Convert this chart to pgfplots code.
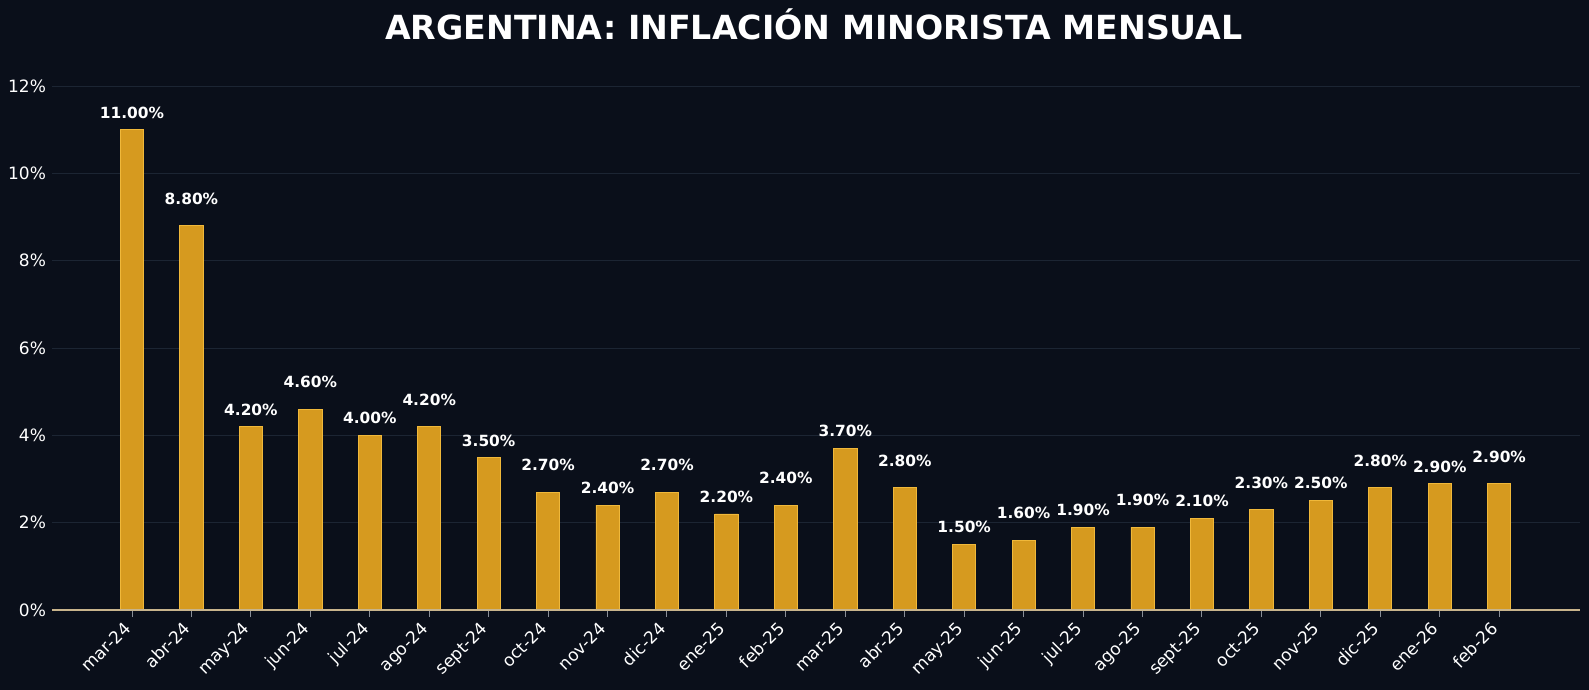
\documentclass[border=0pt]{standalone}
\usepackage{fontspec}
\setmainfont{DejaVu Sans}
\usepackage{pgfplots}
\usepackage{pgfplotstable}
\pgfplotsset{compat=1.18}

\definecolor{bg}{HTML}{0A0F1A}
\definecolor{bar}{HTML}{D69A1F}
\definecolor{baredge}{HTML}{F0B83A}
\definecolor{gridc}{HTML}{1C2533}
\definecolor{spine}{HTML}{C8B48C}
\definecolor{tickc}{HTML}{8A8F98}

% x, monthly inflation (%), label offset
\pgfplotstableread{
x v off
0 11.0 0.38
1 8.8 0.62
2 4.2 0.38
3 4.6 0.63
4 4.0 0.40
5 4.2 0.61
6 3.5 0.38
7 2.7 0.63
8 2.4 0.40
9 2.7 0.62
10 2.2 0.40
11 2.4 0.62
12 3.7 0.40
13 2.8 0.62
14 1.5 0.40
15 1.6 0.62
16 1.9 0.40
17 1.9 0.62
18 2.1 0.40
19 2.3 0.62
20 2.5 0.40
21 2.8 0.62
22 2.9 0.38
23 2.9 0.61
}\inflacion

\begin{document}
\begin{tikzpicture}
\fill[bg] (-26pt,-40pt) rectangle (768.5pt,305pt);
\path[use as bounding box] (-26pt,-40pt) rectangle (768.5pt,305pt);
\node[text=white, font=\bfseries\fontsize{16.6}{19}\selectfont] at (381pt,293pt) {ARGENTINA: INFLACIÓN MINORISTA MENSUAL};
\begin{axis}[
    at={(0pt,0pt)}, anchor=south west,
    scale only axis,
    width=764pt, height=272.9pt,
    xmin=-1.346, xmax=24.36,
    ymin=0, ymax=12.5,
    axis line style={draw=none},
    axis x line*=bottom,
    axis y line*=left,
    ytick={0,2,...,12},
    yticklabel={\pgfmathprintnumber{\tick}\%},
    ytick style={draw=none},
    ymajorgrids,
    grid style={gridc, line width=0.5pt},
    xtick=data,
    xticklabels={mar-24,abr-24,may-24,jun-24,jul-24,ago-24,sept-24,oct-24,nov-24,dic-24,ene-25,feb-25,mar-25,abr-25,may-25,jun-25,jul-25,ago-25,sept-25,oct-25,nov-25,dic-25,ene-26,feb-26},
    xtick style={tickc, line width=0.5pt},
    major tick length=3.5pt,
    tick align=outside,
    xticklabel style={rotate=45, anchor=north east, inner sep=1pt, yshift=3pt, xshift=-3.5pt, font=\fontsize{8.5}{10}\selectfont, text=white},
    yticklabel style={font=\fontsize{8.5}{10}\selectfont, text=white, xshift=4pt},
    /pgf/number format/assume math mode=true,
    clip=false,
]
\addplot[ybar, bar width=0.39, fill=bar, draw=baredge, line width=0.4pt] table[x=x, y=v] {\inflacion};
\addplot[only marks, mark=none, draw=none,
    nodes near coords={\pgfmathprintnumber[fixed, fixed zerofill, precision=2]{\pgfplotspointmeta}\%},
    point meta=explicit,
    every node near coord/.append style={anchor=center, text=white, font=\bfseries\fontsize{7.7}{9}\selectfont}]
    table[x=x, y expr=\thisrow{v}+\thisrow{off}, meta=v] {\inflacion};
\draw[spine, line width=0.6pt] (axis cs:-1.346,0) -- (axis cs:24.36,0);
\end{axis}
\end{tikzpicture}
\end{document}
